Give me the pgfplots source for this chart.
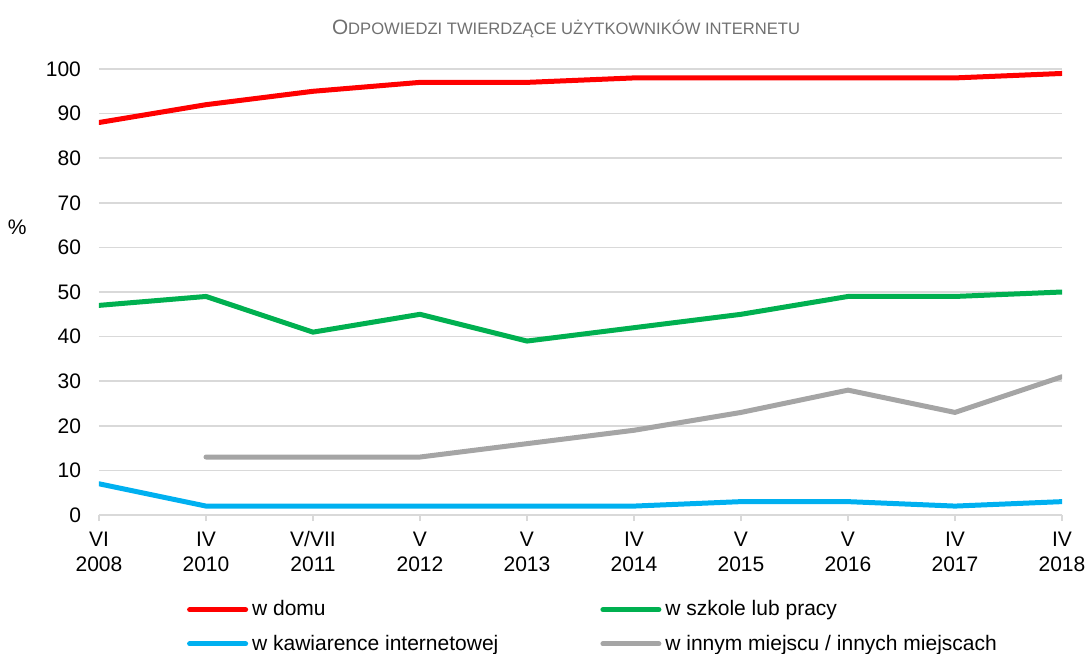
\documentclass[border=0pt]{standalone}
\usepackage{pgfplots}
\pgfplotsset{compat=1.18}
\usepackage{fontspec}
\setmainfont{Liberation Sans}
\definecolor{cred}{HTML}{FF0000}
\definecolor{cgreen}{HTML}{00B050}
\definecolor{cblue}{HTML}{00B0F0}
\definecolor{cgray}{HTML}{A5A5A5}
\definecolor{gridc}{HTML}{D9D9D9}
\definecolor{titlec}{HTML}{707070}
\newcommand\fs{\rule{0pt}{8.2pt}}
\pgfplotstableread{
x domu szkola kawiarnia inne
0 88 47 7 nan
1 92 49 2 13
2 95 41 2 13
3 97 45 2 13
4 97 39 2 16
5 98 42 2 19
6 98 45 3 23
7 98 49 3 28
8 98 49 2 23
9 99 50 3 31
}\data
\begin{document}
\begin{tikzpicture}
\begin{axis}[
  scale only axis,
  width=481.5pt, height=223pt,
  xmin=0, xmax=9, ymin=0, ymax=100,
  xtick={0,...,9},
  xticklabels={{\fs VI\\2008},{\fs IV\\2010},{\fs V/VII\\2011},{\fs V\\2012},{\fs V\\2013},{\fs IV\\2014},{\fs V\\2015},{\fs V\\2016},{\fs IV\\2017},{\fs IV\\2018}},
  xticklabel style={align=center, font=\fontsize{10.5}{12.5}\selectfont, yshift=-1pt},
  ytick={0,10,...,100},
  yticklabel style={font=\fontsize{10.5}{13}\selectfont, xshift=-2.5pt},
  /pgf/number format/assume math mode=true,
  axis x line*=bottom, axis y line*=left,
  x axis line style={draw=gridc, line width=0.75pt, -},
  y axis line style={draw=none},
  xtick style={draw=gridc, line width=0.75pt},
  ytick style={draw=none},
  tick align=outside, major tick length=3pt,
  ymajorgrids, grid style={draw=gridc, line width=0.75pt},
  ylabel={\%},
  ylabel style={rotate=-90, at={(axis description cs:-0.085,0.646)}, anchor=center, font=\fontsize{10.5}{13}\selectfont},
  title={{\fontsize{10.4}{12}\selectfont O}{\fontsize{8.3}{10}\selectfont DPOWIEDZI TWIERDZĄCE UŻYTKOWNIKÓW INTERNETU}},
  title style={at={(axis description cs:0.485,1)}, anchor=center, yshift=14pt, text=titlec},
  legend columns=2,
  legend cell align=left,
  legend style={at={(axis description cs:0.514,-0.182)}, anchor=north, draw=none, fill=none,
    font=\fontsize{10.5}{13}\selectfont, row sep=4pt, inner sep=0pt,
    /tikz/every even column/.append style={column sep=49pt}},
  legend image code/.code={\draw[#1, line cap=round] (0pt,0pt) -- (28pt,0pt);},
  every axis plot/.append style={line width=2.5pt, line join=round, line cap=round},
  unbounded coords=jump,
]
\addplot[cred] table[x=x, y=domu] {\data};
\addlegendentry{w domu}
\addplot[cgreen] table[x=x, y=szkola] {\data};
\addlegendentry{w szkole lub pracy}
\addplot[cblue] table[x=x, y=kawiarnia] {\data};
\addlegendentry{w kawiarence internetowej}
\addplot[cgray] table[x=x, y=inne] {\data};
\addlegendentry{w innym miejscu / innych miejscach}
\end{axis}
\pgfresetboundingbox
\path ([shift={(-49.5pt,-69pt)}]current axis.south west) rectangle ([shift={(13pt,34.5pt)}]current axis.north east);
\end{tikzpicture}
\end{document}
